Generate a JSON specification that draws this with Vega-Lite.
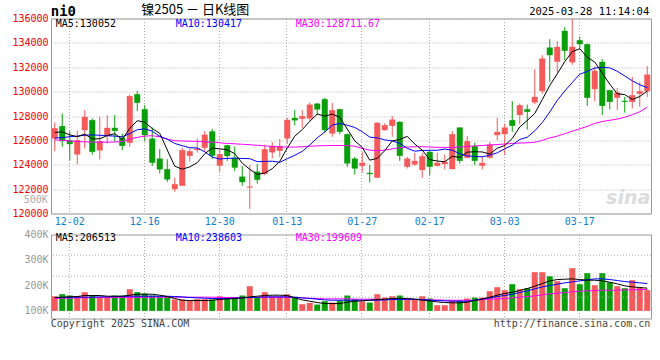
{
"$schema": "https://vega.github.io/schema/vega-lite/v6.json",
"background": "white",
"padding": {"left": 11, "top": 3.5, "right": 9, "bottom": 4},
"bounds": "flush",
"spacing": 21,
"config": {
 "view": {"stroke": "#999", "strokeWidth": 1},
 "axis": {"domain": false, "ticks": false, "labelFont": "DejaVu Sans Mono", "labelFontSize": 10, "gridColor": "#aaa", "gridDash": [1, 2], "gridWidth": 1, "labelOverlap": false},
 "text": {"font": "DejaVu Sans Mono", "fontSize": 10, "baseline": "middle"},
 "line": {"strokeWidth": 1}
},
"datasets": {"k": [
{"d":"11-28","o":126150,"h":127470,"l":125110,"c":127000,"m5":126650,"m10":126200,"m30":126050,"v":156100,"a5":150900,"a10":150900,"a30":146900},
{"d":"11-29","o":127170,"h":128200,"l":125470,"c":125940,"m5":126700,"m10":126230,"m30":126000,"v":164000,"a5":152200,"a10":150900,"a30":148200},
{"d":"12-02","o":126020,"h":126750,"l":124380,"c":125690,"m5":126450,"m10":126300,"m30":125950,"v":158800,"a5":153500,"a10":152200,"a30":148200},
{"d":"12-03","o":124840,"h":126780,"l":124020,"c":126020,"m5":126300,"m10":126350,"m30":125900,"v":156100,"a5":154800,"a10":152200,"a30":149500},
{"d":"12-04","o":126840,"h":128480,"l":125330,"c":127930,"m5":126516,"m10":126420,"m30":125880,"v":171900,"a5":158800,"a10":152200,"a30":149500},
{"d":"12-05","o":127660,"h":127800,"l":124840,"c":125060,"m5":126128,"m10":126450,"m30":125860,"v":158800,"a5":158800,"a10":152200,"a30":150900},
{"d":"12-06","o":125170,"h":127930,"l":124430,"c":125940,"m5":126128,"m10":126420,"m30":125850,"v":153500,"a5":158800,"a10":153500,"a30":150900},
{"d":"12-09","o":126370,"h":128070,"l":125740,"c":127030,"m5":126396,"m10":126380,"m30":125850,"v":153500,"a5":156100,"a10":153500,"a30":150900},
{"d":"12-10","o":127030,"h":128070,"l":125880,"c":126780,"m5":126548,"m10":126350,"m30":125870,"v":158800,"a5":156100,"a10":154800,"a30":150900},
{"d":"12-11","o":126210,"h":126560,"l":125200,"c":125550,"m5":126072,"m10":126294,"m30":125900,"v":158800,"a5":156100,"a10":154800,"a30":150900},
{"d":"12-12","o":125800,"h":129760,"l":125470,"c":129630,"m5":126986,"m10":126557,"m30":126100,"v":183800,"a5":160100,"a10":156100,"a30":150900},
{"d":"12-13","o":129790,"h":130040,"l":128400,"c":129080,"m5":127614,"m10":126871,"m30":126250,"v":171900,"a5":164000,"a10":156100,"a30":150900},
{"d":"12-16","o":128560,"h":128890,"l":125940,"c":126430,"m5":127494,"m10":126945,"m30":126350,"v":166700,"a5":164000,"a10":156100,"a30":152200},
{"d":"12-17","o":126150,"h":127060,"l":123910,"c":124160,"m5":126970,"m10":126759,"m30":126380,"v":158800,"a5":164000,"a10":156100,"a30":152200},
{"d":"12-18","o":124510,"h":125280,"l":123280,"c":123610,"m5":126582,"m10":126327,"m30":126300,"v":156100,"a5":160100,"a10":156100,"a30":152200},
{"d":"12-19","o":123640,"h":124460,"l":122600,"c":122790,"m5":125214,"m10":126100,"m30":126100,"v":153500,"a5":154800,"a10":156100,"a30":152200},
{"d":"12-20","o":122000,"h":122950,"l":121780,"c":122410,"m5":123880,"m10":125747,"m30":125980,"v":143000,"a5":146900,"a10":154800,"a30":152200},
{"d":"12-23","o":122270,"h":125390,"l":122270,"c":125200,"m5":123634,"m10":125564,"m30":125950,"v":143000,"a5":140300,"a10":153500,"a30":152200},
{"d":"12-24","o":124730,"h":125330,"l":124240,"c":125110,"m5":123824,"m10":125397,"m30":125930,"v":139000,"a5":139000,"a10":150900,"a30":152200},
{"d":"12-25","o":125200,"h":126150,"l":125000,"c":125330,"m5":124168,"m10":125375,"m30":125920,"v":144300,"a5":139000,"a10":149500,"a30":152200},
{"d":"12-26","o":125390,"h":126750,"l":125050,"c":126470,"m5":124904,"m10":125059,"m30":125880,"v":144300,"a5":139000,"a10":148200,"a30":152200},
{"d":"12-27","o":126740,"h":126950,"l":124500,"c":124740,"m5":125370,"m10":124625,"m30":125850,"v":143000,"a5":140300,"a10":146900,"a30":152200},
{"d":"12-30","o":123920,"h":125250,"l":123430,"c":124870,"m5":125304,"m10":124469,"m30":125800,"v":156100,"a5":143000,"a10":146900,"a30":150900},
{"d":"12-31","o":125600,"h":125650,"l":124300,"c":124710,"m5":125224,"m10":124524,"m30":125750,"v":149500,"a5":145600,"a10":146900,"a30":150900},
{"d":"01-02","o":124570,"h":125500,"l":123480,"c":123760,"m5":124910,"m10":124539,"m30":125720,"v":146900,"a5":146900,"a10":148200,"a30":150900},
{"d":"01-03","o":123030,"h":123900,"l":122270,"c":122570,"m5":124130,"m10":124517,"m30":125680,"v":158800,"a5":149500,"a10":149500,"a30":150900},
{"d":"01-06","o":122130,"h":123980,"l":120380,"c":122220,"m5":123626,"m10":124498,"m30":125640,"v":195700,"a5":153500,"a10":150900,"a30":150900},
{"d":"01-07","o":123440,"h":124050,"l":122450,"c":122760,"m5":123204,"m10":124254,"m30":125600,"v":149500,"a5":156100,"a10":152200,"a30":150900},
{"d":"01-08","o":123250,"h":125650,"l":123150,"c":125280,"m5":123318,"m10":124271,"m30":125550,"v":171900,"a5":158800,"a10":153500,"a30":150900},
{"d":"01-09","o":125010,"h":125850,"l":124520,"c":125550,"m5":123676,"m10":124293,"m30":125500,"v":156100,"a5":160100,"a10":153500,"a30":150900},
{"d":"01-10","o":125140,"h":126110,"l":124620,"c":125550,"m5":124272,"m10":124201,"m30":125470,"v":156100,"a5":160100,"a10":153500,"a30":150900},
{"d":"01-13","o":126150,"h":127850,"l":125710,"c":127690,"m5":125366,"m10":124496,"m30":125450,"v":164000,"a5":158800,"a10":153500,"a30":150900},
{"d":"01-14","o":127840,"h":128500,"l":127230,"c":127640,"m5":126342,"m10":124773,"m30":125450,"v":153500,"a5":149500,"a10":152200,"a30":150900},
{"d":"01-15","o":127770,"h":128480,"l":127030,"c":127990,"m5":126884,"m10":125101,"m30":125480,"v":124500,"a5":141600,"a10":149500,"a30":149500},
{"d":"01-16","o":127800,"h":129110,"l":127630,"c":128940,"m5":127562,"m10":125619,"m30":125520,"v":129800,"a5":136400,"a10":146900,"a30":148200},
{"d":"01-17","o":129020,"h":129080,"l":128070,"c":128530,"m5":128158,"m10":126215,"m30":125550,"v":123200,"a5":131100,"a10":144300,"a30":146900},
{"d":"01-20","o":129380,"h":129490,"l":126650,"c":126840,"m5":127988,"m10":126677,"m30":125570,"v":136400,"a5":127100,"a10":141600,"a30":145600},
{"d":"01-21","o":126560,"h":129080,"l":126290,"c":128480,"m5":128156,"m10":127249,"m30":125580,"v":131100,"a5":127100,"a10":140300,"a30":145600},
{"d":"01-22","o":128560,"h":128600,"l":126510,"c":126700,"m5":127898,"m10":127391,"m30":125580,"v":139000,"a5":127100,"a10":140300,"a30":145600},
{"d":"01-23","o":126510,"h":126560,"l":123830,"c":124100,"m5":126930,"m10":127246,"m30":125570,"v":158800,"a5":132400,"a10":140300,"a30":145600},
{"d":"01-24","o":124510,"h":124650,"l":123200,"c":123690,"m5":125962,"m10":127060,"m30":125520,"v":144300,"a5":136400,"a10":140300,"a30":144300},
{"d":"01-27","o":123910,"h":125060,"l":123360,"c":124160,"m5":125426,"m10":126707,"m30":125350,"v":135000,"a5":137700,"a10":140300,"a30":144300},
{"d":"02-05","o":123340,"h":123970,"l":122540,"c":123230,"m5":124376,"m10":126266,"m30":125200,"v":131100,"a5":140300,"a10":140300,"a30":144300},
{"d":"02-06","o":122930,"h":127520,"l":122930,"c":127440,"m5":124524,"m10":126211,"m30":125150,"v":164000,"a5":143000,"a10":140300,"a30":144300},
{"d":"02-07","o":126840,"h":127400,"l":126800,"c":127250,"m5":125154,"m10":126042,"m30":125200,"v":150900,"a5":144300,"a10":141600,"a30":143000},
{"d":"02-10","o":127190,"h":127990,"l":126290,"c":127710,"m5":125958,"m10":125960,"m30":125300,"v":156100,"a5":146900,"a10":143000,"a30":143000},
{"d":"02-11","o":127520,"h":127580,"l":124320,"c":124730,"m5":126072,"m10":125749,"m30":125400,"v":158800,"a5":148200,"a10":143000,"a30":143000},
{"d":"02-12","o":123830,"h":124650,"l":123690,"c":124510,"m5":126328,"m10":125352,"m30":125450,"v":144300,"a5":146900,"a10":144300,"a30":143000},
{"d":"02-13","o":124020,"h":124980,"l":123910,"c":124320,"m5":125704,"m10":125114,"m30":125480,"v":144300,"a5":144300,"a10":144300,"a30":143000},
{"d":"02-14","o":123560,"h":124980,"l":122930,"c":124700,"m5":125194,"m10":125174,"m30":125480,"v":156100,"a5":140300,"a10":143000,"a30":143000},
{"d":"02-17","o":125060,"h":125200,"l":123150,"c":123830,"m5":124418,"m10":125188,"m30":125450,"v":146900,"a5":137700,"a10":140300,"a30":141600},
{"d":"02-18","o":123910,"h":124980,"l":123850,"c":124160,"m5":124304,"m10":125188,"m30":125430,"v":120500,"a5":133700,"a10":139000,"a30":141600},
{"d":"02-19","o":124050,"h":124840,"l":123610,"c":124240,"m5":124250,"m10":125289,"m30":125420,"v":120500,"a5":131100,"a10":137700,"a30":140300},
{"d":"02-20","o":123640,"h":126760,"l":123640,"c":126510,"m5":124688,"m10":125196,"m30":125430,"v":139000,"a5":129800,"a10":136400,"a30":140300},
{"d":"02-21","o":127060,"h":127060,"l":124100,"c":124320,"m5":124612,"m10":124903,"m30":125450,"v":139000,"a5":129800,"a10":136400,"a30":140300},
{"d":"02-24","o":124570,"h":126350,"l":124510,"c":125940,"m5":125034,"m10":124726,"m30":125500,"v":146900,"a5":132400,"a10":136400,"a30":140300},
{"d":"02-25","o":125530,"h":125800,"l":123970,"c":124320,"m5":125066,"m10":124685,"m30":125550,"v":150900,"a5":139000,"a10":140300,"a30":140300},
{"d":"02-26","o":123910,"h":124650,"l":123610,"c":124160,"m5":125050,"m10":124650,"m30":125580,"v":150900,"a5":144300,"a10":145600,"a30":143000},
{"d":"02-27","o":124570,"h":125880,"l":124510,"c":125660,"m5":124880,"m10":124784,"m30":125620,"v":175900,"a5":152200,"a10":149500,"a30":144300},
{"d":"02-28","o":126430,"h":127850,"l":126020,"c":126700,"m5":125356,"m10":124984,"m30":125660,"v":191700,"a5":160100,"a10":154800,"a30":145600},
{"d":"03-03","o":126510,"h":127380,"l":124790,"c":127060,"m5":125580,"m10":125307,"m30":125700,"v":179800,"a5":166700,"a10":158800,"a30":146900},
{"d":"03-04","o":127660,"h":129220,"l":126700,"c":127190,"m5":126154,"m10":125610,"m30":125750,"v":203600,"a5":171900,"a10":164000,"a30":149500},
{"d":"03-05","o":128070,"h":129030,"l":127330,"c":128890,"m5":127100,"m10":126075,"m30":125780,"v":183800,"a5":178500,"a10":170600,"a30":152200},
{"d":"03-06","o":128560,"h":128940,"l":126890,"c":128340,"m5":127636,"m10":126258,"m30":125800,"v":187800,"a5":186400,"a10":177200,"a30":154800},
{"d":"03-07","o":129110,"h":131840,"l":128970,"c":129570,"m5":128210,"m10":126783,"m30":125850,"v":251000,"a5":195700,"a10":185100,"a30":157400},
{"d":"03-10","o":130040,"h":132990,"l":129820,"c":132720,"m5":129342,"m10":127461,"m30":126000,"v":251000,"a5":206200,"a10":193000,"a30":161400},
{"d":"03-11","o":133620,"h":134300,"l":130800,"c":132990,"m5":130502,"m10":128328,"m30":126200,"v":235200,"a5":216700,"a10":198300,"a30":165400},
{"d":"03-12","o":132450,"h":134150,"l":131550,"c":133680,"m5":131460,"m10":129280,"m30":126350,"v":215400,"a5":222000,"a10":203600,"a30":168000},
{"d":"03-13","o":134990,"h":135300,"l":132600,"c":133350,"m5":132462,"m10":130049,"m30":126550,"v":187800,"a5":223300,"a10":208900,"a30":170600},
{"d":"03-14","o":132400,"h":135980,"l":132200,"c":133680,"m5":133284,"m10":130747,"m30":126750,"v":266800,"a5":224600,"a10":212800,"a30":173300},
{"d":"03-17","o":134220,"h":134500,"l":133540,"c":133890,"m5":133518,"m10":131430,"m30":126950,"v":203600,"a5":222000,"a10":216700,"a30":175900},
{"d":"03-18","o":133890,"h":133950,"l":128830,"c":129490,"m5":132818,"m10":131660,"m30":127150,"v":247000,"a5":219400,"a10":220700,"a30":177200},
{"d":"03-19","o":130200,"h":132030,"l":129220,"c":131710,"m5":132424,"m10":131942,"m30":127400,"v":199600,"a5":219400,"a10":224600,"a30":178500},
{"d":"03-20","o":132440,"h":132660,"l":128070,"c":128830,"m5":131520,"m10":131991,"m30":127550,"v":247000,"a5":216700,"a10":224600,"a30":179800},
{"d":"03-21","o":130120,"h":130150,"l":128560,"c":129160,"m5":130616,"m10":131950,"m30":127650,"v":211500,"a5":211500,"a10":222000,"a30":179800},
{"d":"03-24","o":129490,"h":130310,"l":128480,"c":129930,"m5":129824,"m10":131671,"m30":127750,"v":195700,"a5":204900,"a10":218100,"a30":179800},
{"d":"03-25","o":129250,"h":129570,"l":128290,"c":129160,"m5":129758,"m10":131288,"m30":127900,"v":187800,"a5":197000,"a10":214100,"a30":181200},
{"d":"03-26","o":129160,"h":131210,"l":128620,"c":129710,"m5":129358,"m10":130891,"m30":128100,"v":219400,"a5":193000,"a10":211500,"a30":181200},
{"d":"03-27","o":129820,"h":130800,"l":128750,"c":130040,"m5":129600,"m10":130560,"m30":128350,"v":191700,"a5":190400,"a10":208900,"a30":182500},
{"d":"03-28","o":130040,"h":132090,"l":129570,"c":131400,"m5":130048,"m10":130332,"m30":128710,"v":179800,"a5":187800,"a10":206200,"a30":182500}
]},
"vconcat": [
{
 "width": 600, "height": 195,
 "data": {"name": "k"},
 "layer": [
  {"mark": {"type": "rule", "strokeWidth": 1},
   "encoding": {
    "x": {"field": "d", "type": "ordinal", "sort": null, "title": null, "scale": {"type": "band", "paddingInner": 0, "paddingOuter": 0},
          "axis": {"values": ["12-02","12-16","12-30","01-13","01-27","02-17","03-03","03-17"], "grid": true, "labelColor": "#1080d0", "labelPadding": 3, "labelAngle": 0, "bandPosition": 0.4}},
    "y": {"field": "l", "type": "quantitative", "title": null, "scale": {"domain": [120000, 136000], "zero": false, "nice": false},
          "axis": {"values": [120000,122000,124000,126000,128000,130000,132000,134000,136000], "tickCount": 50, "format": "d", "labelColor": "#f00000", "labelPadding": 3, "grid": true, "labelOverlap": false, "labelFlush": false}},
    "y2": {"field": "h"},
    "color": {"condition": {"test": "datum.c >= datum.o", "value": "#f55a5a"}, "value": "#0a9e0a"}
   }},
  {"mark": {"type": "bar", "size": 6},
   "encoding": {
    "x": {"field": "d", "type": "ordinal", "sort": null, "title": null},
    "y": {"field": "o", "type": "quantitative", "title": null},
    "y2": {"field": "c"},
    "color": {"condition": {"test": "datum.c >= datum.o", "value": "#f55a5a"}, "value": "#0a9e0a"}
   }},
  {"mark": {"type": "line", "color": "#ff00ff"},
   "encoding": {"x": {"field": "d", "type": "ordinal", "sort": null, "title": null}, "y": {"field": "m30", "type": "quantitative", "title": null}}},
  {"mark": {"type": "line", "color": "#0000ff"},
   "encoding": {"x": {"field": "d", "type": "ordinal", "sort": null, "title": null}, "y": {"field": "m10", "type": "quantitative", "title": null}}},
  {"mark": {"type": "line", "color": "#000000"},
   "encoding": {"x": {"field": "d", "type": "ordinal", "sort": null, "title": null}, "y": {"field": "m5", "type": "quantitative", "title": null}}},
  {"data": {"values": [{}]}, "mark": {"type": "text", "text": "ni0", "align": "left", "dx": -4, "fontSize": 14, "fontWeight": "bold", "color": "#000"},
   "encoding": {"x": {"datum": "11-28", "type": "ordinal"}, "y": {"datum": 136560, "type": "quantitative"}}},
  {"data": {"values": [{}]}, "mark": {"type": "text", "text": "镍2505 － 日K线图", "align": "left", "dx": 4, "font": "Noto Sans CJK SC", "fontSize": 13, "color": "#000"},
   "encoding": {"x": {"datum": "12-13", "type": "ordinal"}, "y": {"datum": 136680, "type": "quantitative"}}},
  {"data": {"values": [{}]}, "mark": {"type": "text", "text": "2025-03-28 11:14:04", "align": "right", "dx": 2, "fontSize": 10.5, "color": "#000"},
   "encoding": {"x": {"datum": "03-28", "type": "ordinal"}, "y": {"datum": 136520, "type": "quantitative"}}},
  {"data": {"values": [{}]}, "mark": {"type": "text", "text": "MA5:130052", "align": "left", "dx": 1, "color": "#000"},
   "encoding": {"x": {"datum": "11-28", "type": "ordinal"}, "y": {"datum": 135560, "type": "quantitative"}}},
  {"data": {"values": [{}]}, "mark": {"type": "text", "text": "MA10:130417", "align": "left", "dx": 1, "color": "#0000ff"},
   "encoding": {"x": {"datum": "12-20", "type": "ordinal"}, "y": {"datum": 135560, "type": "quantitative"}}},
  {"data": {"values": [{}]}, "mark": {"type": "text", "text": "MA30:128711.67", "align": "left", "dx": 1, "color": "#ff00ff"},
   "encoding": {"x": {"datum": "01-14", "type": "ordinal"}, "y": {"datum": 135560, "type": "quantitative"}}},
  {"data": {"values": [{}]}, "mark": {"type": "text", "text": "500K", "align": "right", "dx": -7, "color": "#aaa"},
   "encoding": {"x": {"datum": "11-28", "type": "ordinal"}, "y": {"datum": 121100, "type": "quantitative"}}},
  {"data": {"values": [{}]}, "mark": {"type": "text", "text": "sina", "align": "right", "dx": 3, "font": "DejaVu Sans", "fontSize": 19, "fontWeight": "bold", "fontStyle": "italic", "color": "#dcdcdc"},
   "encoding": {"x": {"datum": "03-28", "type": "ordinal"}, "y": {"datum": 121300, "type": "quantitative"}}}
 ]
},
{
 "width": 600, "height": 84,
 "data": {"name": "k"},
 "layer": [
  {"mark": {"type": "bar", "size": 6},
   "encoding": {
    "x": {"field": "d", "type": "ordinal", "sort": null, "title": null, "scale": {"type": "band", "paddingInner": 0, "paddingOuter": 0},
          "axis": {"values": ["12-02","12-16","12-30","01-13","01-27","02-17","03-03","03-17"], "grid": true, "labels": false, "bandPosition": 0.4}},
    "y": {"field": "v", "type": "quantitative", "title": null, "scale": {"domain": [68000, 400000], "zero": false, "nice": false},
          "axis": {"values": [100000, 200000, 300000, 400000], "tickCount": 50, "labelExpr": "(datum.value / 1000) + 'K'", "labelColor": "#999", "labelPadding": 3, "grid": false, "labelOverlap": false, "labelFlush": false}},
    "y2": {"datum": 98000},
    "color": {"condition": {"test": "datum.c >= datum.o", "value": "#f55a5a"}, "value": "#0a9e0a"}
   }},
  {"data": {"values": [{}]}, "mark": {"type": "rule", "color": "#aaa", "strokeDash": [1, 2]}, "encoding": {"y": {"datum": 152200, "type": "quantitative"}}},
  {"data": {"values": [{}]}, "mark": {"type": "rule", "color": "#aaa", "strokeDash": [1, 2]}, "encoding": {"y": {"datum": 235200, "type": "quantitative"}}},
  {"data": {"values": [{}]}, "mark": {"type": "rule", "color": "#aaa", "strokeDash": [1, 2]}, "encoding": {"y": {"datum": 318200, "type": "quantitative"}}},
  {"mark": {"type": "line", "color": "#ff00ff"},
   "encoding": {"x": {"field": "d", "type": "ordinal", "sort": null, "title": null}, "y": {"field": "a30", "type": "quantitative", "title": null}}},
  {"mark": {"type": "line", "color": "#0000ff"},
   "encoding": {"x": {"field": "d", "type": "ordinal", "sort": null, "title": null}, "y": {"field": "a10", "type": "quantitative", "title": null}}},
  {"mark": {"type": "line", "color": "#000000"},
   "encoding": {"x": {"field": "d", "type": "ordinal", "sort": null, "title": null}, "y": {"field": "a5", "type": "quantitative", "title": null}}},
  {"data": {"values": [{}]}, "mark": {"type": "text", "text": "MA5:206513", "align": "left", "dx": 1, "color": "#000"},
   "encoding": {"x": {"datum": "11-28", "type": "ordinal"}, "y": {"datum": 386000, "type": "quantitative"}}},
  {"data": {"values": [{}]}, "mark": {"type": "text", "text": "MA10:238603", "align": "left", "dx": 1, "color": "#0000ff"},
   "encoding": {"x": {"datum": "12-20", "type": "ordinal"}, "y": {"datum": 386000, "type": "quantitative"}}},
  {"data": {"values": [{}]}, "mark": {"type": "text", "text": "MA30:199609", "align": "left", "dx": 1, "color": "#ff00ff"},
   "encoding": {"x": {"datum": "01-14", "type": "ordinal"}, "y": {"datum": 386000, "type": "quantitative"}}},
  {"data": {"values": [{}]}, "mark": {"type": "text", "text": "Copyright 2025 SINA.COM", "align": "left", "dx": -4, "color": "#444"},
   "encoding": {"x": {"datum": "11-28", "type": "ordinal"}, "y": {"datum": 46700, "type": "quantitative"}}},
  {"data": {"values": [{}]}, "mark": {"type": "text", "text": "http://finance.sina.com.cn", "align": "right", "dx": 3, "color": "#444"},
   "encoding": {"x": {"datum": "03-28", "type": "ordinal"}, "y": {"datum": 46700, "type": "quantitative"}}}
 ]
}
]
}
